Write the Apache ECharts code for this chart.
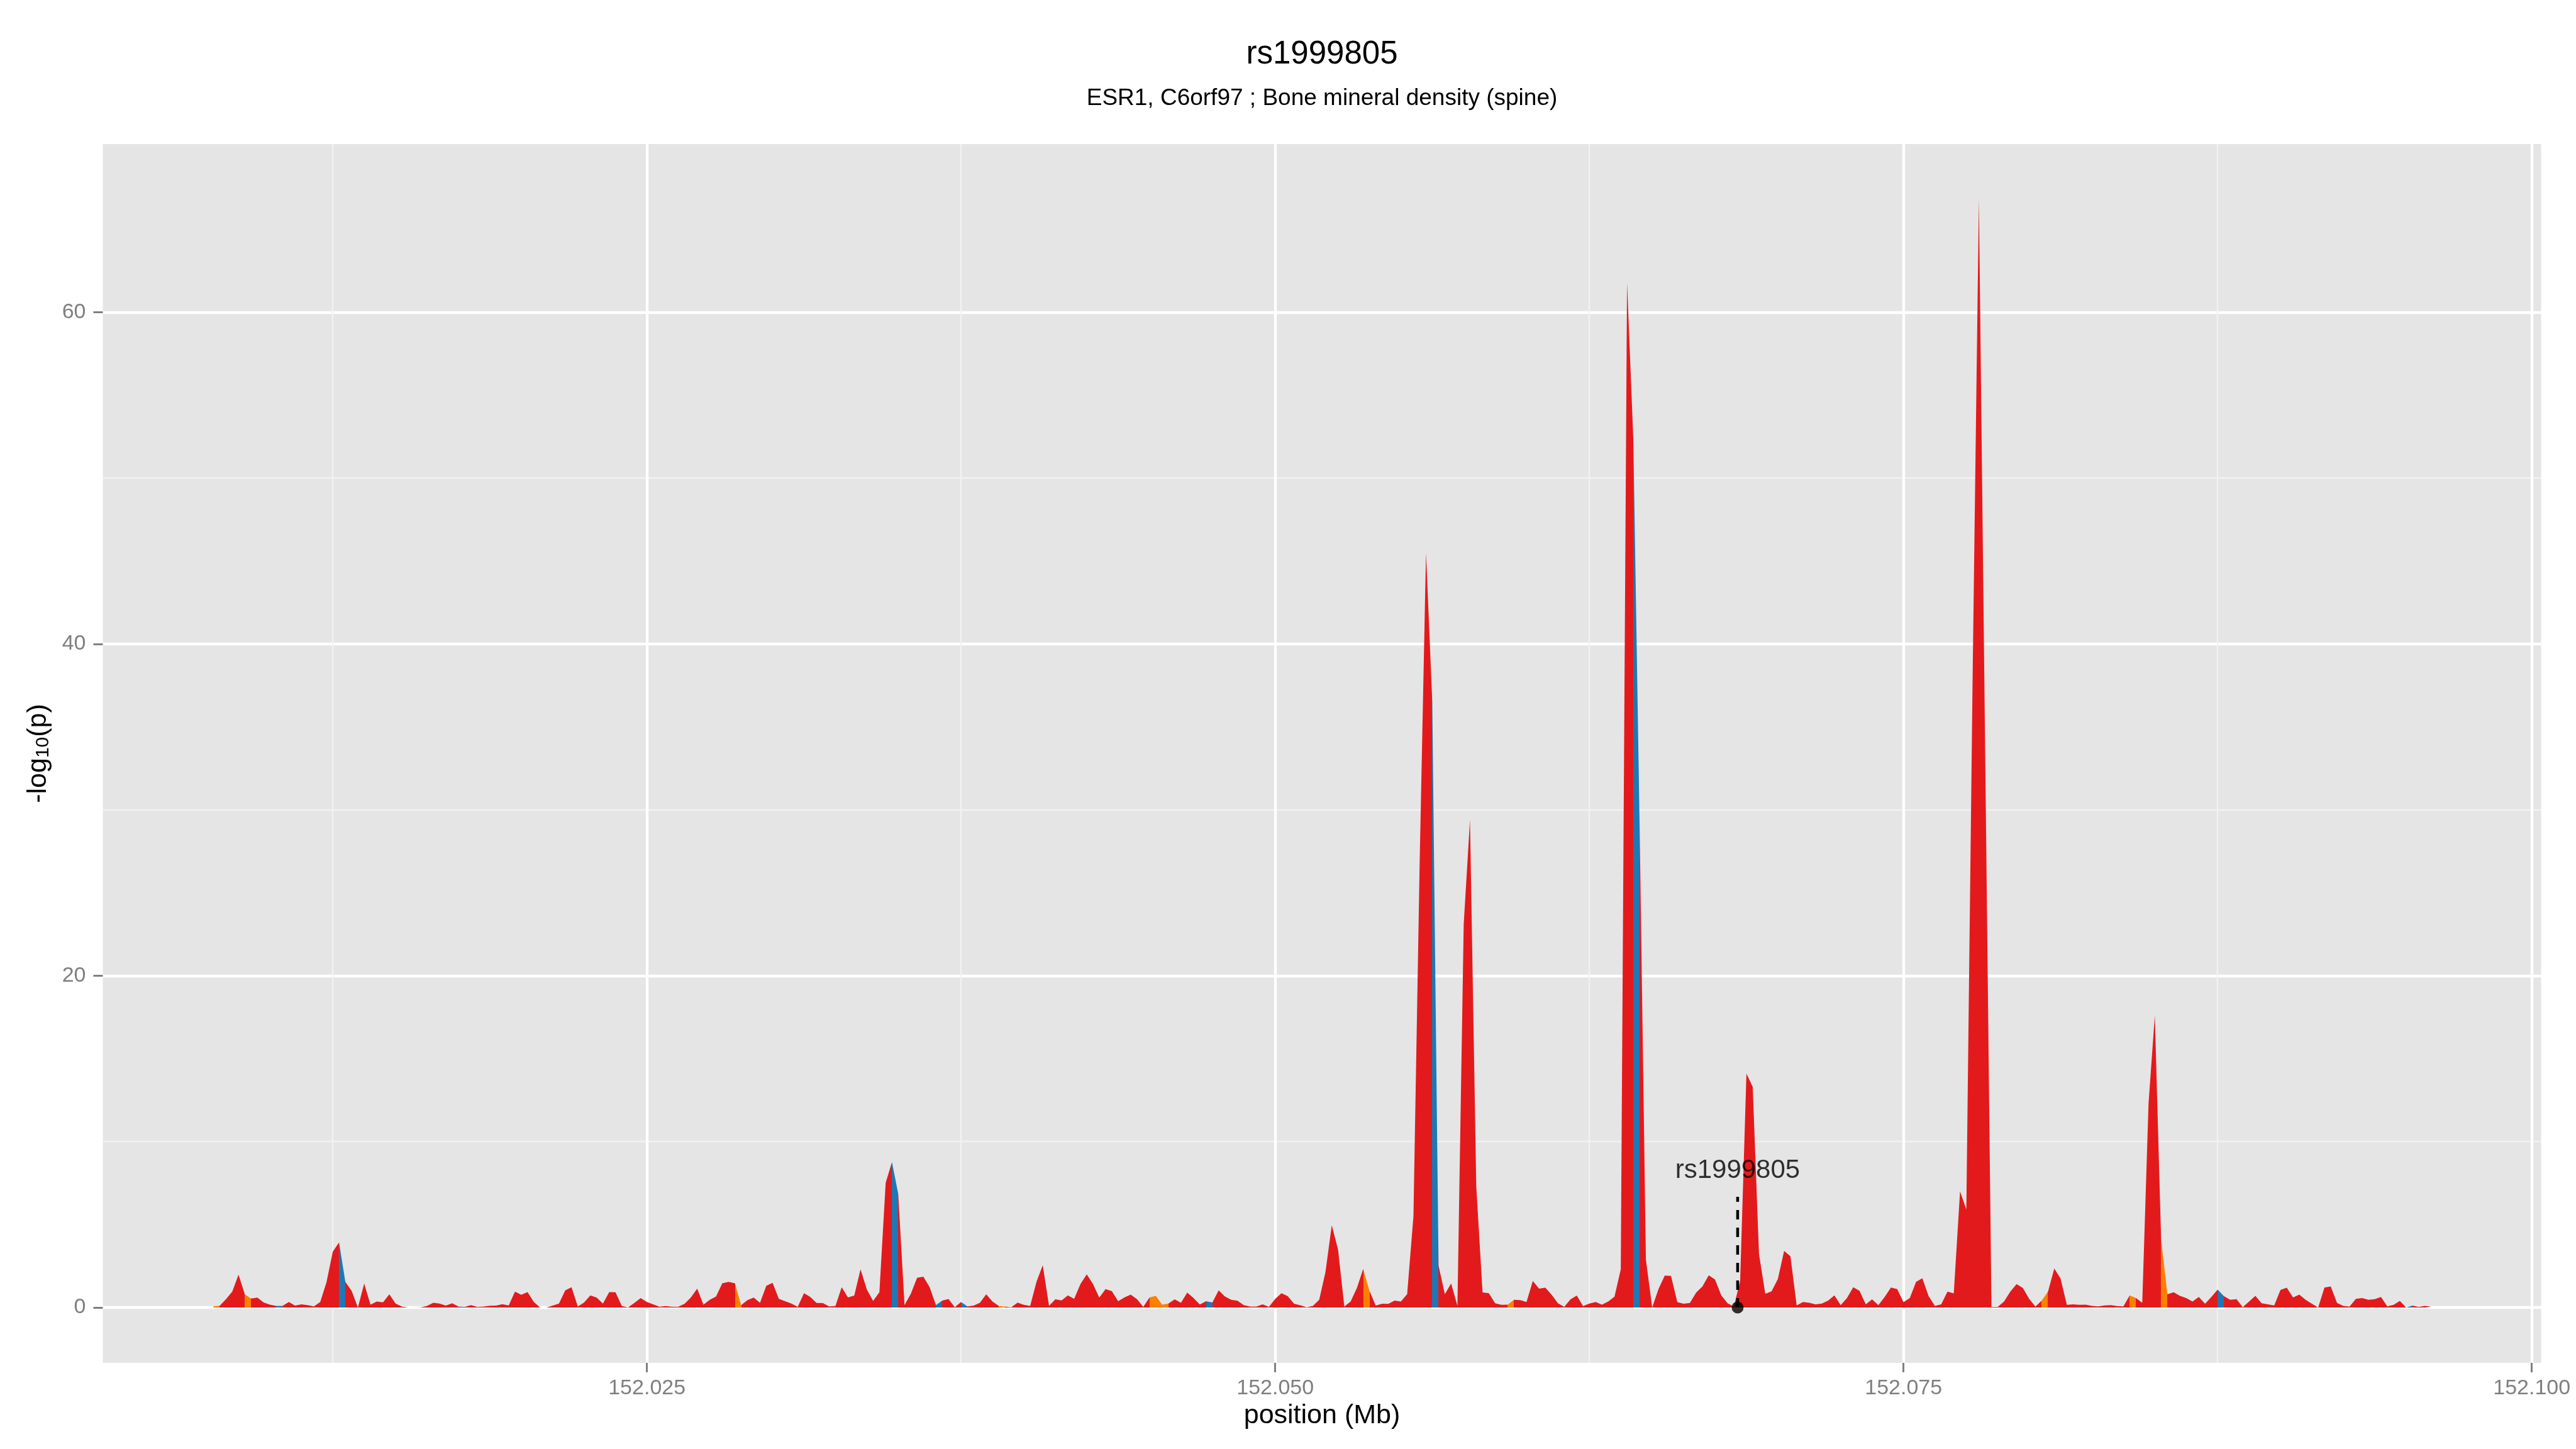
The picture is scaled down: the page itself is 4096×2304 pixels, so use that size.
<!DOCTYPE html>
<html>
<head>
<meta charset="utf-8">
<script src="https://cdn.jsdelivr.net/npm/echarts@6/dist/echarts.min.js"></script>
<style>
  html, body { margin: 0; padding: 0; background: #fff; }
  #chart { width: 4096px; height: 2304px; }
</style>
</head>
<body>
<div id="chart"></div>
<script>
// SNP positions sit on a regular 250 bp grid (Mb)
const posStart = 152.00775;
const posStep = 0.00025;

// -log10(p) at each grid position
const logP = [
  0.07, 0.10, 0.50, 0.95, 1.98, 0.79, 0.54, 0.59, 0.30, 0.17, 0.09, 0.09, 0.33, 0.11, 0.19, 0.14, 0.06, 0.33, 1.52, 3.36,
  3.92, 1.54, 1.00, 0.00, 1.44, 0.17, 0.36, 0.31, 0.79, 0.23, 0.05, 0.00, 0.00, 0.01, 0.09, 0.28, 0.23, 0.11, 0.25, 0.05,
  0.03, 0.14, 0.03, 0.05, 0.10, 0.11, 0.20, 0.12, 0.95, 0.76, 0.93, 0.33, 0.00, 0.00, 0.11, 0.23, 1.03, 1.22, 0.05, 0.30,
  0.73, 0.59, 0.23, 0.93, 0.92, 0.09, 0.01, 0.27, 0.57, 0.33, 0.19, 0.04, 0.08, 0.04, 0.04, 0.22, 0.60, 1.13, 0.17, 0.46,
  0.66, 1.46, 1.54, 1.46, 0.14, 0.44, 0.59, 0.28, 1.30, 1.48, 0.52, 0.38, 0.23, 0.03, 0.86, 0.63, 0.27, 0.26, 0.06, 0.08,
  1.22, 0.60, 0.72, 2.30, 1.09, 0.39, 0.92, 7.51, 8.76, 6.84, 0.14, 0.82, 1.79, 1.85, 1.22, 0.14, 0.41, 0.51, 0.02, 0.33,
  0.06, 0.11, 0.28, 0.79, 0.36, 0.09, 0.05, 0.02, 0.29, 0.16, 0.09, 1.54, 2.55, 0.09, 0.49, 0.42, 0.73, 0.52, 1.41, 2.00,
  1.41, 0.59, 1.11, 0.98, 0.38, 0.60, 0.77, 0.50, 0.03, 0.60, 0.70, 0.17, 0.23, 0.49, 0.28, 0.90, 0.57, 0.18, 0.38, 0.30,
  1.03, 0.66, 0.46, 0.40, 0.14, 0.05, 0.05, 0.19, 0.03, 0.52, 0.86, 0.68, 0.22, 0.13, 0.02, 0.09, 0.46, 2.14, 4.95, 3.49,
  0.05, 0.36, 1.17, 2.32, 1.00, 0.11, 0.22, 0.21, 0.41, 0.36, 0.80, 5.50, 27.0, 45.5, 36.5, 2.52, 0.80, 1.45, 0.10, 23.1,
  29.4, 7.30, 0.91, 0.86, 0.25, 0.16, 0.17, 0.46, 0.44, 0.33, 1.60, 1.13, 1.19, 0.76, 0.25, 0.03, 0.49, 0.72, 0.08, 0.23,
  0.33, 0.17, 0.36, 0.65, 2.30, 61.8, 52.3, 29.0, 2.88, 0.00, 1.11, 1.92, 1.90, 0.32, 0.22, 0.27, 0.90, 1.27, 1.94, 1.68,
  0.73, 0.25, 0.05, 1.60, 14.1, 13.3, 3.22, 0.82, 0.97, 1.71, 3.41, 3.09, 0.12, 0.33, 0.28, 0.19, 0.23, 0.41, 0.73, 0.14,
  0.57, 1.22, 1.00, 0.19, 0.49, 0.14, 0.63, 1.20, 1.11, 0.32, 0.57, 1.54, 1.76, 0.68, 0.09, 0.19, 0.95, 0.85, 7.00, 5.90,
  38.0, 66.8, 33.4, 0.03, 0.03, 0.36, 0.95, 1.41, 1.17, 0.52, 0.05, 0.41, 0.95, 2.35, 1.74, 0.16, 0.19, 0.16, 0.17, 0.09,
  0.06, 0.12, 0.14, 0.08, 0.06, 0.73, 0.57, 0.28, 12.3, 17.6, 4.14, 0.79, 0.92, 0.70, 0.57, 0.36, 0.63, 0.22, 0.63, 1.08,
  0.68, 0.46, 0.50, 0.02, 0.36, 0.70, 0.25, 0.19, 0.12, 1.06, 1.19, 0.60, 0.77, 0.46, 0.22, 0.00, 1.20, 1.27, 0.27, 0.09,
  0.05, 0.52, 0.57, 0.46, 0.50, 0.63, 0.06, 0.16, 0.39, 0.00, 0.11, 0.03, 0.09, 0.05
];

// segments (index of left point) drawn in another LD colour; the rest are red
const segOrange = [0, 5, 83, 125, 149, 150, 151, 183, 206, 291, 305, 310];
const segBlue = [10, 20, 108, 115, 119, 158, 194, 226, 319, 349];
const segPurple = [39];

// lead SNP marker
const snpName = "rs1999805";
const snpPos = 152.0684;
const snpLineTop = 6.67;
const snpLabelY = 8.25;

const xTicks = [152.025, 152.050, 152.075, 152.100];
const xMinor = [152.0125, 152.0375, 152.0625, 152.0875];
const yTicks = [0, 20, 40, 60];
const yMinor = [10, 30, 50];

const xMin = 152.00335, xMax = 152.10037;
const yMin = -3.34, yMax = 70.14;

const FONT = "Liberation Sans";
const RED = "#E31A1C", BLUE = "#1F78B4", ORANGE = "#FF7F00", PURPLE = "#6A3D9A";

const pos = logP.map((_, i) => posStart + posStep * i);
const areaData = logP.map((v, i) => [pos[i], v]);

const pieces = [];
segOrange.forEach(k => pieces.push({ gt: pos[k], lte: pos[k + 1], color: ORANGE }));
segBlue.forEach(k => pieces.push({ gt: pos[k], lte: pos[k + 1], color: BLUE }));
segPurple.forEach(k => pieces.push({ gt: pos[k], lte: pos[k + 1], color: PURPLE }));
pieces.sort((a, b) => a.gt - b.gt);

const chart = echarts.init(document.getElementById("chart"));

const tickStyle = { show: true, length: 15, lineStyle: { color: "#7F7F7F", width: 3 } };

chart.setOption({
  animation: false,
  backgroundColor: "#FFFFFF",
  textStyle: { fontFamily: FONT },
  title: [
    {
      text: "rs1999805",
      left: 2097,
      top: 56,
      textAlign: "center",
      textStyle: { fontFamily: FONT, fontSize: 51, fontWeight: "normal", color: "#000" }
    },
    {
      text: "ESR1, C6orf97 ; Bone mineral density (spine)",
      left: 2097,
      top: 133,
      textAlign: "center",
      textStyle: { fontFamily: FONT, fontSize: 37, fontWeight: "normal", color: "#000" }
    }
  ],
  grid: {
    left: 163.5,
    top: 229,
    width: 3877,
    height: 1938,
    show: true,
    backgroundColor: "#E5E5E5",
    borderWidth: 0
  },
  visualMap: {
    show: false,
    type: "piecewise",
    seriesIndex: 0,
    dimension: 0,
    pieces: pieces,
    outOfRange: { color: RED }
  },
  xAxis: [
    {
      // minor grid
      type: "value", min: xMin, max: xMax,
      position: "top",
      axisLine: { show: false, onZero: false },
      axisTick: { show: false, customValues: xMinor },
      axisLabel: { show: false, customValues: xMinor },
      splitLine: { show: true, lineStyle: { color: "#F2F2F2", width: 2.3 } }
    },
    {
      type: "value", min: xMin, max: xMax,
      position: "bottom",
      name: "position (Mb)",
      nameLocation: "middle",
      nameGap: 60,
      nameTextStyle: { fontFamily: FONT, fontSize: 43, color: "#000" },
      axisLine: { show: false, onZero: false },
      axisTick: Object.assign({ customValues: xTicks }, tickStyle),
      axisLabel: {
        customValues: xTicks,
        margin: 24,
        fontFamily: FONT, fontSize: 34, color: "#7F7F7F",
        formatter: v => v.toFixed(3)
      },
      splitLine: { show: true, lineStyle: { color: "#FFFFFF", width: 4.3 } }
    }
  ],
  yAxis: [
    {
      type: "value", min: yMin, max: yMax,
      position: "right",
      axisLine: { show: false, onZero: false },
      axisTick: { show: false, customValues: yMinor },
      axisLabel: { show: false, customValues: yMinor },
      splitLine: { show: true, lineStyle: { color: "#F2F2F2", width: 2.3 } }
    },
    {
      type: "value", min: yMin, max: yMax,
      position: "left",
      name: "-log{sub|10}(p)",
      nameLocation: "middle",
      nameRotate: 90,
      nameGap: 80,
      nameTextStyle: {
        fontFamily: FONT, fontSize: 43, color: "#000",
        rich: { sub: { fontFamily: FONT, fontSize: 30, color: "#000", padding: [14, 0, 0, 0] } }
      },
      axisLine: { show: false, onZero: false },
      axisTick: Object.assign({ customValues: yTicks }, tickStyle),
      axisLabel: {
        customValues: yTicks,
        margin: 27,
        fontFamily: FONT, fontSize: 34, color: "#7F7F7F"
      },
      splitLine: { show: true, lineStyle: { color: "#FFFFFF", width: 4.3 } }
    }
  ],
  series: [
    {
      type: "line",
      xAxisIndex: 1, yAxisIndex: 1,
      data: areaData,
      showSymbol: false,
      symbol: "none",
      lineStyle: { width: 0 },
      areaStyle: { opacity: 1 },
      z: 3
    },
    {
      type: "line",
      xAxisIndex: 1, yAxisIndex: 1,
      data: [[snpPos, 0], [snpPos, snpLineTop]],
      symbol: "none",
      lineStyle: { color: "#000", width: 4.5, type: [15, 13] },
      z: 4
    },
    {
      type: "scatter",
      xAxisIndex: 1, yAxisIndex: 1,
      data: [[snpPos, 0]],
      symbolSize: 19,
      itemStyle: { color: "#000" },
      z: 5
    },
    {
      type: "scatter",
      xAxisIndex: 1, yAxisIndex: 1,
      data: [[snpPos, snpLabelY]],
      symbolSize: 1,
      itemStyle: { color: "rgba(0,0,0,0)" },
      label: {
        show: true, position: "inside", formatter: snpName,
        fontFamily: FONT, fontSize: 42, color: "#000"
      },
      z: 6
    }
  ]
});
</script>
</body>
</html>
